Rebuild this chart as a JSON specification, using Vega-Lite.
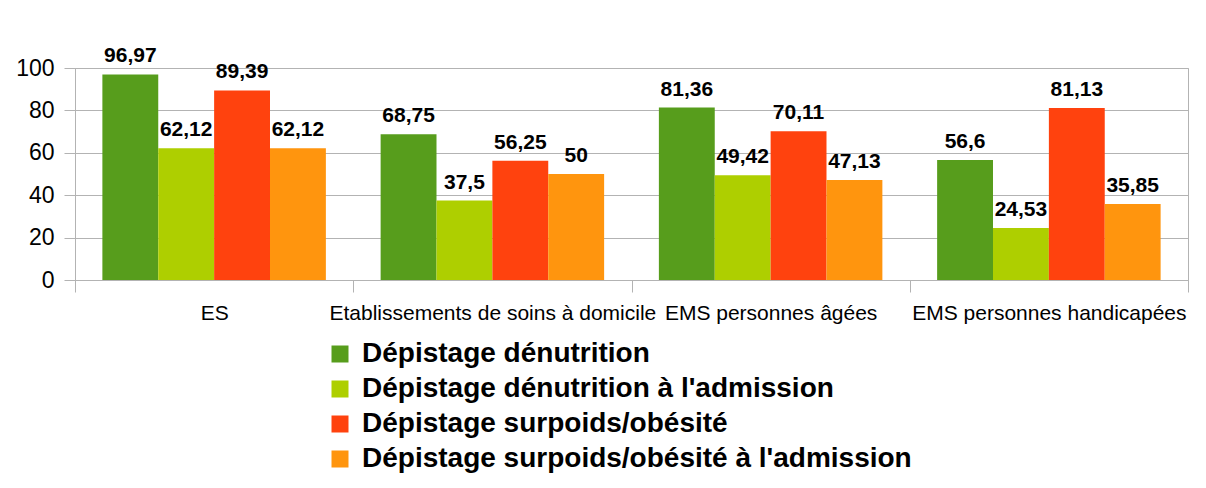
{
  "$schema": "https://vega.github.io/schema/vega-lite/v6.json",
  "width": 1113,
  "height": 212,
  "autosize": {"type": "none"},
  "padding": {"left": 75, "top": 68, "right": 18, "bottom": 208},
  "config": {
    "font": "Liberation Sans",
    "locale": {"number": {"decimal": ",", "thousands": " ", "grouping": [3], "currency": ["", " €"]}},
    "view": {"stroke": "#b3b3b3", "strokeWidth": 1}
  },
  "data": {
    "values": [
      {"cat": "ES", "serie": "Dépistage dénutrition", "v": 96.97},
      {"cat": "ES", "serie": "Dépistage dénutrition à l'admission", "v": 62.12},
      {"cat": "ES", "serie": "Dépistage surpoids/obésité", "v": 89.39},
      {"cat": "ES", "serie": "Dépistage surpoids/obésité à l'admission", "v": 62.12},
      {"cat": "Etablissements de soins à domicile", "serie": "Dépistage dénutrition", "v": 68.75},
      {"cat": "Etablissements de soins à domicile", "serie": "Dépistage dénutrition à l'admission", "v": 37.5},
      {"cat": "Etablissements de soins à domicile", "serie": "Dépistage surpoids/obésité", "v": 56.25},
      {"cat": "Etablissements de soins à domicile", "serie": "Dépistage surpoids/obésité à l'admission", "v": 50},
      {"cat": "EMS personnes âgées", "serie": "Dépistage dénutrition", "v": 81.36},
      {"cat": "EMS personnes âgées", "serie": "Dépistage dénutrition à l'admission", "v": 49.42},
      {"cat": "EMS personnes âgées", "serie": "Dépistage surpoids/obésité", "v": 70.11},
      {"cat": "EMS personnes âgées", "serie": "Dépistage surpoids/obésité à l'admission", "v": 47.13},
      {"cat": "EMS personnes handicapées", "serie": "Dépistage dénutrition", "v": 56.6},
      {"cat": "EMS personnes handicapées", "serie": "Dépistage dénutrition à l'admission", "v": 24.53},
      {"cat": "EMS personnes handicapées", "serie": "Dépistage surpoids/obésité", "v": 81.13},
      {"cat": "EMS personnes handicapées", "serie": "Dépistage surpoids/obésité à l'admission", "v": 35.85}
    ]
  },
  "encoding": {
    "x": {
      "field": "cat", "type": "nominal",
      "sort": ["ES", "Etablissements de soins à domicile", "EMS personnes âgées", "EMS personnes handicapées"],
      "scale": {"paddingInner": 0, "paddingOuter": 0},
      "axis": {
        "title": null, "labelAngle": 0, "labelFontSize": 21, "labelColor": "#000000",
        "labelLimit": 0, "labelOverlap": false, "tickBand": "extent", "tickSize": 12,
        "tickColor": "#b3b3b3", "domainColor": "#b3b3b3", "labelPadding": 10, "grid": false
      }
    },
    "xOffset": {
      "field": "serie", "type": "nominal",
      "sort": ["Dépistage dénutrition", "Dépistage dénutrition à l'admission", "Dépistage surpoids/obésité", "Dépistage surpoids/obésité à l'admission"],
      "scale": {"paddingInner": 0, "paddingOuter": 0.49}
    },
    "y": {
      "field": "v", "type": "quantitative",
      "scale": {"domain": [0, 100]},
      "axis": {
        "title": null, "values": [0, 20, 40, 60, 80, 100], "labelFontSize": 23, "labelColor": "#000000",
        "tickSize": 11, "tickColor": "#b3b3b3", "domainColor": "#b3b3b3", "gridColor": "#b3b3b3",
        "labelPadding": 10
      }
    }
  },
  "layer": [
    {
      "mark": {"type": "bar"},
      "encoding": {
        "color": {
          "field": "serie", "type": "nominal",
          "sort": ["Dépistage dénutrition", "Dépistage dénutrition à l'admission", "Dépistage surpoids/obésité", "Dépistage surpoids/obésité à l'admission"],
          "scale": {"range": ["#579d1c", "#aecf00", "#ff420e", "#ff950e"]},
          "legend": {
            "title": null, "orient": "none", "legendX": 251, "legendY": 272,
            "direction": "vertical", "symbolType": "square", "symbolSize": 289,
            "symbolStrokeWidth": 0, "symbolOpacity": 1,
            "labelFontSize": 28, "labelFontWeight": "bold", "labelColor": "#000000",
            "labelLimit": 0, "rowPadding": 7, "labelOffset": 8, "padding": 0, "offset": 0
          }
        }
      }
    },
    {
      "mark": {"type": "text", "baseline": "alphabetic", "dy": -12, "fontWeight": "bold", "fontSize": 21, "color": "#000000"},
      "encoding": {
        "text": {"field": "v", "type": "quantitative", "format": ".4~r"}
      }
    }
  ]
}
